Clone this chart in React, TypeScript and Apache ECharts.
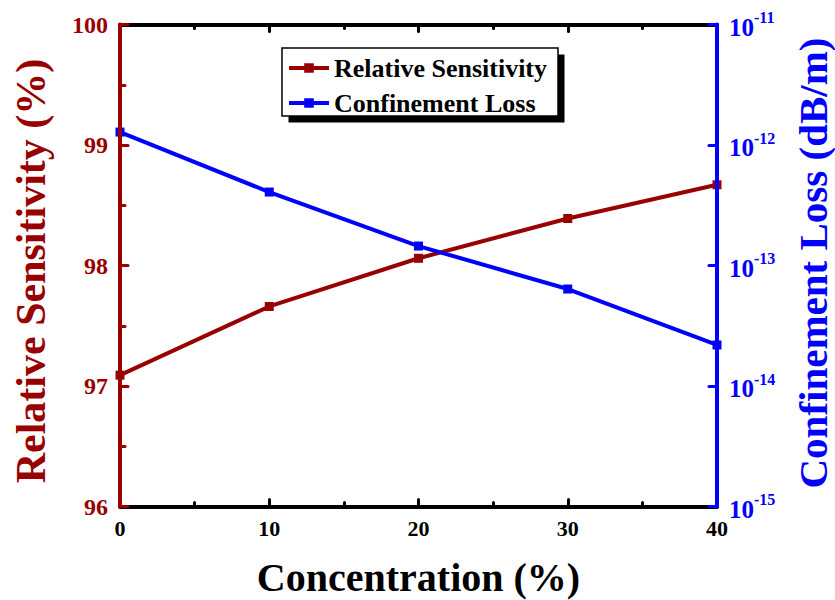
import React, { useEffect, useRef } from "react";
import * as echarts from "echarts";

// Concentration of the analyte (%)
const concentration = [0, 10, 20, 30, 40];
// Relative sensitivity (%)
const sensitivity = [97.09, 97.66, 98.06, 98.39, 98.67];
// Confinement loss (dB/m)
const confinementLoss = [1.28e-12, 4.07e-13, 1.45e-13, 6.38e-14, 2.19e-14];

const seriesNames = ["Relative Sensitivity", "Confinement Loss"];
const xTitle = "Concentration (%)";
const leftTitle = "Relative Sensitivity (%)";
const rightTitle = "Confinement Loss (dB/m)";

const RED = "#990000";
const BLUE = "#0000ff";
const FONT = "'Liberation Serif', 'Times New Roman', serif";

export default function App() {
  const ref = useRef<HTMLDivElement>(null);

  useEffect(() => {
    if (!ref.current) return;
    const chart = echarts.init(ref.current, null, { renderer: "svg" });

    const xAxisBase = {
      type: "value" as const,
      min: 0,
      max: 40,
      interval: 10,
      axisLine: { show: true, onZero: false, lineStyle: { color: "#000", width: 4 } },
      axisTick: {
        show: true,
        inside: true,
        length: 7,
        lineStyle: { color: "#000", width: 3, cap: "round" as const },
      },
      minorTick: {
        show: true,
        splitNumber: 2,
        length: 4,
        lineStyle: { color: "#000", width: 3, cap: "round" as const },
      },
      splitLine: { show: false },
      minorSplitLine: { show: false },
    };

    chart.setOption({
      animation: false,
      backgroundColor: "#fff",
      grid: { left: 120, right: 118, top: 24.5, bottom: 93.5, containLabel: false },
      legend: {
        orient: "vertical",
        left: 287,
        top: 55,
        padding: 0,
        itemGap: 9,
        itemWidth: 40,
        itemHeight: 12,
        data: seriesNames,
        lineStyle: { width: 4 },
        textStyle: {
          fontFamily: FONT,
          fontWeight: "bold",
          fontSize: 26,
          lineHeight: 25,
          color: "#000",
        },
        z: 10,
      },
      xAxis: [
        {
          ...xAxisBase,
          position: "bottom",
          axisLabel: {
            margin: 11,
            fontFamily: FONT,
            fontWeight: "bold",
            fontSize: 22,
            color: "#000",
          },
        },
        {
          ...xAxisBase,
          position: "top",
          axisLabel: { show: false },
        },
      ],
      yAxis: [
        {
          type: "value",
          position: "left",
          min: 96,
          max: 100,
          interval: 1,
          z: 5,
          axisLine: { show: true, onZero: false, lineStyle: { color: RED, width: 4 } },
          axisTick: {
            show: true,
            inside: true,
            length: 8,
            lineStyle: { color: RED, width: 3, cap: "round" },
          },
          minorTick: {
            show: true,
            splitNumber: 2,
            length: 5,
            lineStyle: { color: RED, width: 3, cap: "round" },
          },
          splitLine: { show: false },
          minorSplitLine: { show: false },
          axisLabel: {
            margin: 12,
            fontFamily: FONT,
            fontWeight: "bold",
            fontSize: 24,
            color: RED,
          },
        },
        {
          type: "log",
          logBase: 10,
          position: "right",
          min: 1e-15,
          max: 1e-11,
          z: 5,
          axisLine: { show: true, onZero: false, lineStyle: { color: BLUE, width: 4 } },
          axisTick: {
            show: true,
            inside: true,
            length: 8,
            lineStyle: { color: BLUE, width: 3, cap: "round" },
          },
          splitLine: { show: false },
          axisLabel: {
            margin: 12,
            formatter: (v: number) => {
              const e = Math.round(Math.log10(v));
              return `{b|10}{s|${e}}`;
            },
            rich: {
              b: {
                fontFamily: FONT,
                fontWeight: "bold",
                fontSize: 25,
                color: BLUE,
                lineHeight: 30,
                verticalAlign: "bottom",
              },
              s: {
                fontFamily: FONT,
                fontWeight: "bold",
                fontSize: 16,
                color: BLUE,
                lineHeight: 16,
                verticalAlign: "top",
              },
            },
          },
        },
      ],
      series: [
        {
          name: seriesNames[0],
          type: "line",
          xAxisIndex: 0,
          yAxisIndex: 0,
          data: concentration.map((c, i) => [c, sensitivity[i]]),
          symbol: "rect",
          symbolSize: 9,
          itemStyle: { color: RED },
          lineStyle: { color: RED, width: 4 },
          z: 2,
        },
        {
          name: seriesNames[1],
          type: "line",
          xAxisIndex: 0,
          yAxisIndex: 1,
          data: concentration.map((c, i) => [c, confinementLoss[i]]),
          symbol: "rect",
          symbolSize: 9,
          itemStyle: { color: BLUE },
          lineStyle: { color: BLUE, width: 4 },
          z: 2,
        },
      ],
      graphic: [
        // legend frame with a hard drop shadow
        {
          type: "rect",
          z: 1,
          shape: { x: 288.5, y: 54.5, width: 276, height: 68 },
          style: { fill: "#000" },
        },
        {
          type: "rect",
          z: 2,
          shape: { x: 282, y: 48, width: 276, height: 68 },
          style: { fill: "#fff", stroke: "#000", lineWidth: 1.5 },
        },
        {
          type: "text",
          x: 418.5,
          y: 577,
          style: {
            text: xTitle,
            font: `bold 40px ${FONT}`,
            fill: "#000",
            textAlign: "center",
            textVerticalAlign: "middle",
          },
        },
        {
          type: "text",
          x: 31,
          y: 271,
          rotation: Math.PI / 2,
          style: {
            text: leftTitle,
            font: `bold 42px ${FONT}`,
            fill: RED,
            textAlign: "center",
            textVerticalAlign: "middle",
          },
        },
        {
          type: "text",
          x: 813,
          y: 263,
          rotation: Math.PI / 2,
          style: {
            text: rightTitle,
            font: `bold 41px ${FONT}`,
            fill: BLUE,
            textAlign: "center",
            textVerticalAlign: "middle",
          },
        },
      ],
    });

    return () => chart.dispose();
  }, []);

  return (
    <div
      ref={ref}
      style={{ position: "fixed", left: 0, top: 0, width: 835, height: 600 }}
    />
  );
}
